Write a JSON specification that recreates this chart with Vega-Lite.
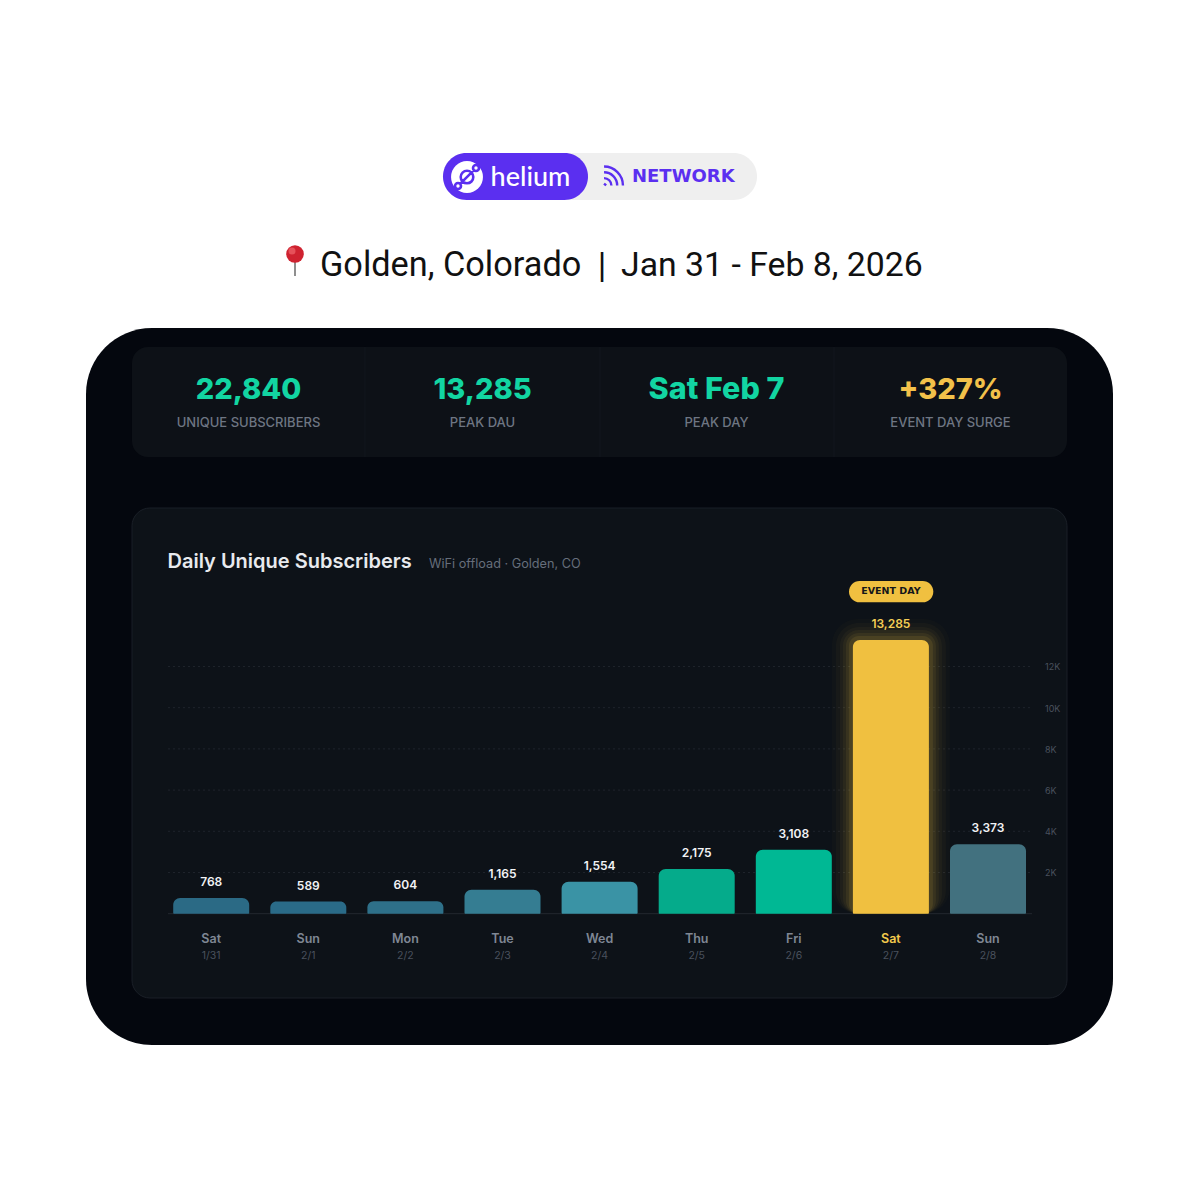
{
  "$schema": "https://vega.github.io/schema/vega-lite/v6.json",
  "width": 1200,
  "height": 1200,
  "padding": 0,
  "autosize": "none",
  "background": "#ffffff",
  "config": {
    "view": {"stroke": null},
    "axis": {"disable": true},
    "text": {"font": "Inter"}
  },
  "datasets": {
    "one": [{}],
    "days": [
      {"n": 1, "day": "Sat", "date": "1/31", "subs": 768},
      {"n": 2, "day": "Sun", "date": "2/1", "subs": 589},
      {"n": 3, "day": "Mon", "date": "2/2", "subs": 604},
      {"n": 4, "day": "Tue", "date": "2/3", "subs": 1165},
      {"n": 5, "day": "Wed", "date": "2/4", "subs": 1554},
      {"n": 6, "day": "Thu", "date": "2/5", "subs": 2175},
      {"n": 7, "day": "Fri", "date": "2/6", "subs": 3108},
      {"n": 8, "day": "Sat", "date": "2/7", "subs": 13285},
      {"n": 9, "day": "Sun", "date": "2/8", "subs": 3373}
    ],
    "ticks": [
      {"tick": 2000, "label": "2K"},
      {"tick": 4000, "label": "4K"},
      {"tick": 6000, "label": "6K"},
      {"tick": 8000, "label": "8K"},
      {"tick": 10000, "label": "10K"},
      {"tick": 12000, "label": "12K"}
    ]
  },
  "layer": [
    {
      "data": {"name": "one"},
      "mark": {"type": "rect", "fill": "#04070e", "cornerRadius": 66},
      "encoding": {
        "x": {"datum": -0.2894, "type": "quantitative", "scale": {"domain": [-1.1751, 11.1833], "nice": false, "zero": false, "padding": 0}},
        "x2": {"datum": 10.2873},
        "y": {"datum": 28430, "type": "quantitative", "scale": {"domain": [-13897, 44351], "nice": false, "zero": false}},
        "y2": {"datum": -6373}
      }
    },
    {
      "data": {"name": "one"},
      "mark": {"type": "rect", "fill": "#0d1117", "cornerRadius": 16},
      "encoding": {
        "x": {"datum": 0.1843, "type": "quantitative"},
        "x2": {"datum": 9.8136},
        "y": {"datum": 27508, "type": "quantitative"},
        "y2": {"datum": 22168}
      }
    },
    {
      "data": {"name": "one"},
      "mark": {"type": "rule", "stroke": "#12171e"},
      "encoding": {"x": {"datum": 2.5839, "type": "quantitative"}, "y": {"datum": 27508, "type": "quantitative"}, "y2": {"datum": 22168}}
    },
    {
      "data": {"name": "one"},
      "mark": {"type": "rule", "stroke": "#12171e"},
      "encoding": {"x": {"datum": 5.0041, "type": "quantitative"}, "y": {"datum": 27508, "type": "quantitative"}, "y2": {"datum": 22168}}
    },
    {
      "data": {"name": "one"},
      "mark": {"type": "rule", "stroke": "#12171e"},
      "encoding": {"x": {"datum": 7.414, "type": "quantitative"}, "y": {"datum": 27508, "type": "quantitative"}, "y2": {"datum": 22168}}
    },
    {
      "data": {"name": "one"},
      "mark": {"type": "rect", "fill": "#0d1218", "stroke": "#1a1f27", "strokeWidth": 1, "cornerRadius": 18},
      "encoding": {
        "x": {"datum": 0.1843, "type": "quantitative"},
        "x2": {"datum": 9.8136},
        "y": {"datum": 19693, "type": "quantitative"},
        "y2": {"datum": -4092}
      }
    },
    {
      "data": {"name": "one"},
      "mark": {"type": "rect", "fill": "#efefef", "cornerRadius": 23.5},
      "encoding": {
        "x": {"datum": 3.3872, "type": "quantitative"},
        "x2": {"datum": 6.621},
        "y": {"datum": 36924, "type": "quantitative"},
        "y2": {"datum": 34643}
      }
    },
    {
      "data": {"name": "one"},
      "mark": {"type": "rect", "fill": "#5b2ff0", "cornerRadius": 23.5},
      "encoding": {
        "x": {"datum": 3.3872, "type": "quantitative"},
        "x2": {"datum": 4.8805},
        "y": {"datum": 36924, "type": "quantitative"},
        "y2": {"datum": 34643}
      }
    },
    {
      "data": {"name": "one"},
      "mark": {"type": "point", "shape": "circle", "filled": true, "fill": "#ffffff", "opacity": 1, "size": 1018},
      "encoding": {"x": {"datum": 3.6344, "type": "quantitative"}, "y": {"datum": 35759, "type": "quantitative"}}
    },
    {
      "data": {"name": "one"},
      "mark": {
        "type": "point",
        "shape": "M-.42 0A.42 .42 0 1 1 .42 0A.42 .42 0 1 1 -.42 0ZM.4 -.6A.2 .2 0 1 1 .8 -.6A.2 .2 0 1 1 .4 -.6ZM-.8 .6A.2 .2 0 1 1 -.4 .6A.2 .2 0 1 1 -.8 .6ZM-.46 .46L.46 -.46",
        "filled": false,
        "stroke": "#5b2ff0",
        "strokeWidth": 2.6,
        "opacity": 1,
        "size": 900
      },
      "encoding": {"x": {"datum": 3.6344, "type": "quantitative"}, "y": {"datum": 35759, "type": "quantitative"}}
    },
    {
      "data": {"name": "one"},
      "mark": {"type": "text", "text": "helium", "font": "Lato", "fontSize": 27, "fontWeight": 500, "fill": "#ffffff", "align": "center", "baseline": "middle", "dy": 1},
      "encoding": {"x": {"datum": 4.2884, "type": "quantitative"}, "y": {"datum": 35759, "type": "quantitative"}}
    },
    {
      "data": {"name": "one"},
      "mark": {
        "type": "point",
        "shape": "M-.9 -.9A1.8 1.8 0 0 1 .9 .9M-.9 -.35A1.25 1.25 0 0 1 .35 .9M-.9 .2A.7 .7 0 0 1 -.2 .9M-.9 .72L-.7 .9",
        "filled": false,
        "stroke": "#5b2ff0",
        "strokeWidth": 2.4,
        "opacity": 1,
        "size": 441
      },
      "encoding": {"x": {"datum": 5.1431, "type": "quantitative"}, "y": {"datum": 35808, "type": "quantitative"}}
    },
    {
      "data": {"name": "one"},
      "mark": {"type": "text", "text": "NETWORK", "font": "DejaVu Sans", "fontSize": 18, "fontWeight": 700, "fill": "#5b2ff0", "align": "left", "baseline": "middle", "dy": 1},
      "encoding": {"x": {"datum": 5.3337, "type": "quantitative"}, "y": {"datum": 35808, "type": "quantitative"}}
    },
    {
      "data": {"name": "one"},
      "mark": {"type": "rule", "stroke": "#8f8f8f", "strokeWidth": 2},
      "encoding": {"x": {"datum": 1.863, "type": "quantitative"}, "y": {"datum": 31634, "type": "quantitative"}, "y2": {"datum": 30954}}
    },
    {
      "data": {"name": "one"},
      "mark": {"type": "point", "shape": "circle", "filled": true, "fill": "#cf2230", "opacity": 1, "size": 310},
      "encoding": {"x": {"datum": 1.863, "type": "quantitative"}, "y": {"datum": 32022, "type": "quantitative"}}
    },
    {
      "data": {"name": "one"},
      "mark": {"type": "point", "shape": "circle", "filled": true, "fill": "#f0656c", "opacity": 0.7, "size": 50},
      "encoding": {"x": {"datum": 1.8321, "type": "quantitative"}, "y": {"datum": 32167, "type": "quantitative"}}
    },
    {
      "data": {"name": "one"},
      "mark": {"type": "text", "text": "Golden, Colorado", "font": "Roboto", "fontSize": 34.3, "fontWeight": 400, "fill": "#111111", "align": "left", "baseline": "middle", "dy": 2},
      "encoding": {"x": {"datum": 2.1205, "type": "quantitative"}, "y": {"datum": 31536, "type": "quantitative"}}
    },
    {
      "data": {"name": "one"},
      "mark": {"type": "text", "text": "|", "font": "Roboto", "fontSize": 35, "fontWeight": 400, "fill": "#111111", "align": "center", "baseline": "middle", "dy": 2},
      "encoding": {"x": {"datum": 5.0247, "type": "quantitative"}, "y": {"datum": 31536, "type": "quantitative"}}
    },
    {
      "data": {"name": "one"},
      "mark": {"type": "text", "text": "Jan 31 - Feb 8, 2026", "font": "Roboto", "fontSize": 33.8, "fontWeight": 400, "fill": "#111111", "align": "left", "baseline": "middle", "dy": 2},
      "encoding": {"x": {"datum": 5.2204, "type": "quantitative"}, "y": {"datum": 31536, "type": "quantitative"}}
    },
    {
      "data": {"name": "one"},
      "mark": {"type": "text", "text": "22,840", "fontSize": 29, "fontWeight": 800, "fill": "#12d5a2", "align": "center", "baseline": "middle", "dy": 2},
      "encoding": {"x": {"datum": 1.3841, "type": "quantitative"}, "y": {"datum": 25517, "type": "quantitative"}}
    },
    {
      "data": {"name": "one"},
      "mark": {"type": "text", "text": "13,285", "fontSize": 29, "fontWeight": 800, "fill": "#12d5a2", "align": "center", "baseline": "middle", "dy": 2},
      "encoding": {"x": {"datum": 3.794, "type": "quantitative"}, "y": {"datum": 25517, "type": "quantitative"}}
    },
    {
      "data": {"name": "one"},
      "mark": {"type": "text", "text": "Sat Feb 7", "fontSize": 30.5, "fontWeight": 800, "fill": "#12d5a2", "align": "center", "baseline": "middle", "dy": 2},
      "encoding": {"x": {"datum": 6.2039, "type": "quantitative"}, "y": {"datum": 25517, "type": "quantitative"}}
    },
    {
      "data": {"name": "one"},
      "mark": {"type": "text", "text": "+327%", "fontSize": 29, "fontWeight": 800, "fill": "#f2c14a", "align": "center", "baseline": "middle", "dy": 2},
      "encoding": {"x": {"datum": 8.6138, "type": "quantitative"}, "y": {"datum": 25517, "type": "quantitative"}}
    },
    {
      "data": {"name": "one"},
      "mark": {"type": "text", "text": "UNIQUE SUBSCRIBERS", "fontSize": 13, "fontWeight": 500, "fill": "#6e7683", "align": "center", "baseline": "middle", "dy": 1},
      "encoding": {"x": {"datum": 1.3841, "type": "quantitative"}, "y": {"datum": 23867, "type": "quantitative"}}
    },
    {
      "data": {"name": "one"},
      "mark": {"type": "text", "text": "PEAK DAU", "fontSize": 13, "fontWeight": 500, "fill": "#6e7683", "align": "center", "baseline": "middle", "dy": 1},
      "encoding": {"x": {"datum": 3.794, "type": "quantitative"}, "y": {"datum": 23867, "type": "quantitative"}}
    },
    {
      "data": {"name": "one"},
      "mark": {"type": "text", "text": "PEAK DAY", "fontSize": 13, "fontWeight": 500, "fill": "#6e7683", "align": "center", "baseline": "middle", "dy": 1},
      "encoding": {"x": {"datum": 6.2039, "type": "quantitative"}, "y": {"datum": 23867, "type": "quantitative"}}
    },
    {
      "data": {"name": "one"},
      "mark": {"type": "text", "text": "EVENT DAY SURGE", "fontSize": 13, "fontWeight": 500, "fill": "#6e7683", "align": "center", "baseline": "middle", "dy": 1},
      "encoding": {"x": {"datum": 8.6138, "type": "quantitative"}, "y": {"datum": 23867, "type": "quantitative"}}
    },
    {
      "data": {"name": "one"},
      "mark": {"type": "text", "text": "Daily Unique Subscribers", "fontSize": 20, "fontWeight": 600, "fill": "#e8eaee", "align": "left", "baseline": "middle", "dy": 1},
      "encoding": {"x": {"datum": 0.55, "type": "quantitative"}, "y": {"datum": 17120, "type": "quantitative"}}
    },
    {
      "data": {"name": "one"},
      "mark": {"type": "text", "text": "WiFi offload · Golden, CO", "fontSize": 12.7, "fontWeight": 400, "fill": "#666e7b", "align": "left", "baseline": "middle", "dy": 1},
      "encoding": {"x": {"datum": 3.2431, "type": "quantitative"}, "y": {"datum": 17023, "type": "quantitative"}}
    },
    {
      "data": {"name": "ticks"},
      "mark": {"type": "rule", "stroke": "#1f242c", "strokeDash": [2, 3]},
      "encoding": {
        "x": {"datum": 0.5551, "type": "quantitative"},
        "x2": {"datum": 9.4532},
        "y": {"field": "tick", "type": "quantitative"}
      }
    },
    {
      "data": {"name": "ticks"},
      "mark": {"type": "text", "fontSize": 9, "fill": "#4a515d", "align": "left", "baseline": "middle", "dy": 1},
      "encoding": {
        "x": {"datum": 9.587, "type": "quantitative"},
        "y": {"field": "tick", "type": "quantitative"},
        "text": {"field": "label"}
      }
    },
    {
      "data": {"name": "one"},
      "mark": {"type": "rule", "stroke": "#23282f"},
      "encoding": {
        "x": {"datum": 0.5551, "type": "quantitative"},
        "x2": {"datum": 9.4532},
        "y": {"datum": 0, "type": "quantitative"}
      }
    },
    {
      "data": {"name": "days"},
      "transform": [{"filter": "datum.date === '2/7'"}],
      "mark": {"type": "bar", "width": 118, "cornerRadius": 26, "yOffset": -21, "y2Offset": 21, "fill": "#f0c040", "opacity": 0.02},
      "encoding": {"x": {"field": "n", "type": "quantitative"}, "y": {"field": "subs", "type": "quantitative", "stack": null}}
    },
    {
      "data": {"name": "days"},
      "transform": [{"filter": "datum.date === '2/7'"}],
      "mark": {"type": "bar", "width": 110, "cornerRadius": 23, "yOffset": -17, "y2Offset": 17, "fill": "#f0c040", "opacity": 0.03},
      "encoding": {"x": {"field": "n", "type": "quantitative"}, "y": {"field": "subs", "type": "quantitative", "stack": null}}
    },
    {
      "data": {"name": "days"},
      "transform": [{"filter": "datum.date === '2/7'"}],
      "mark": {"type": "bar", "width": 102, "cornerRadius": 19, "yOffset": -13, "y2Offset": 13, "fill": "#f0c040", "opacity": 0.04},
      "encoding": {"x": {"field": "n", "type": "quantitative"}, "y": {"field": "subs", "type": "quantitative", "stack": null}}
    },
    {
      "data": {"name": "days"},
      "transform": [{"filter": "datum.date === '2/7'"}],
      "mark": {"type": "bar", "width": 96, "cornerRadius": 16, "yOffset": -10, "y2Offset": 10, "fill": "#f0c040", "opacity": 0.05},
      "encoding": {"x": {"field": "n", "type": "quantitative"}, "y": {"field": "subs", "type": "quantitative", "stack": null}}
    },
    {
      "data": {"name": "days"},
      "transform": [{"filter": "datum.date === '2/7'"}],
      "mark": {"type": "bar", "width": 90, "cornerRadius": 13, "yOffset": -7, "y2Offset": 7, "fill": "#f0c040", "opacity": 0.07},
      "encoding": {"x": {"field": "n", "type": "quantitative"}, "y": {"field": "subs", "type": "quantitative", "stack": null}}
    },
    {
      "data": {"name": "days"},
      "transform": [{"filter": "datum.date === '2/7'"}],
      "mark": {"type": "bar", "width": 84, "cornerRadius": 10, "yOffset": -4, "y2Offset": 4, "fill": "#f0c040", "opacity": 0.1},
      "encoding": {"x": {"field": "n", "type": "quantitative"}, "y": {"field": "subs", "type": "quantitative", "stack": null}}
    },
    {
      "data": {"name": "days"},
      "mark": {"type": "bar", "width": 76, "cornerRadiusTopLeft": 7, "cornerRadiusTopRight": 7, "cornerRadiusBottomLeft": 1, "cornerRadiusBottomRight": 1, "opacity": 1},
      "encoding": {
        "x": {"field": "n", "type": "quantitative"},
        "y": {"field": "subs", "type": "quantitative", "stack": null},
        "color": {
          "field": "date",
          "type": "nominal",
          "legend": null,
          "scale": {
            "domain": ["1/31", "2/1", "2/2", "2/3", "2/4", "2/5", "2/6", "2/7", "2/8"],
            "range": ["#2b6a85", "#2a6b88", "#2e7089", "#357d92", "#3a93a5", "#05ab8b", "#00b894", "#f0c040", "#42717f"]
          }
        }
      }
    },
    {
      "data": {"name": "days"},
      "mark": {"type": "text", "fontSize": 12, "fontWeight": 600, "align": "center", "baseline": "middle", "dy": -16},
      "encoding": {
        "x": {"field": "n", "type": "quantitative"},
        "y": {"field": "subs", "type": "quantitative"},
        "text": {"field": "subs", "type": "quantitative", "format": ","},
        "color": {"condition": {"test": "datum.date === '2/7'", "value": "#f5cd55"}, "value": "#f2f3f5"}
      }
    },
    {
      "data": {"name": "days"},
      "mark": {"type": "text", "fontSize": 12.5, "fontWeight": 600, "align": "center", "baseline": "middle"},
      "encoding": {
        "x": {"field": "n", "type": "quantitative"},
        "y": {"datum": -1228, "type": "quantitative"},
        "text": {"field": "day"},
        "color": {"condition": {"test": "datum.date === '2/7'", "value": "#f2c94c"}, "value": "#7f8794"}
      }
    },
    {
      "data": {"name": "days"},
      "mark": {"type": "text", "fontSize": 10.5, "fontWeight": 400, "fill": "#4a515d", "align": "center", "baseline": "middle"},
      "encoding": {
        "x": {"field": "n", "type": "quantitative"},
        "y": {"datum": -2029, "type": "quantitative"},
        "text": {"field": "date"}
      }
    },
    {
      "data": {"name": "one"},
      "mark": {"type": "rect", "fill": "#f0c040", "cornerRadius": 10.6},
      "encoding": {
        "x": {"datum": 7.5685, "type": "quantitative"},
        "x2": {"datum": 8.4367},
        "y": {"datum": 16149, "type": "quantitative"},
        "y2": {"datum": 15115}
      }
    },
    {
      "data": {"name": "one"},
      "mark": {"type": "text", "text": "EVENT DAY", "font": "DejaVu Sans", "fontSize": 9.5, "fontWeight": 700, "fill": "#14161a", "align": "center", "baseline": "middle"},
      "encoding": {"x": {"datum": 8.0, "type": "quantitative"}, "y": {"datum": 15640, "type": "quantitative"}}
    }
  ]
}
